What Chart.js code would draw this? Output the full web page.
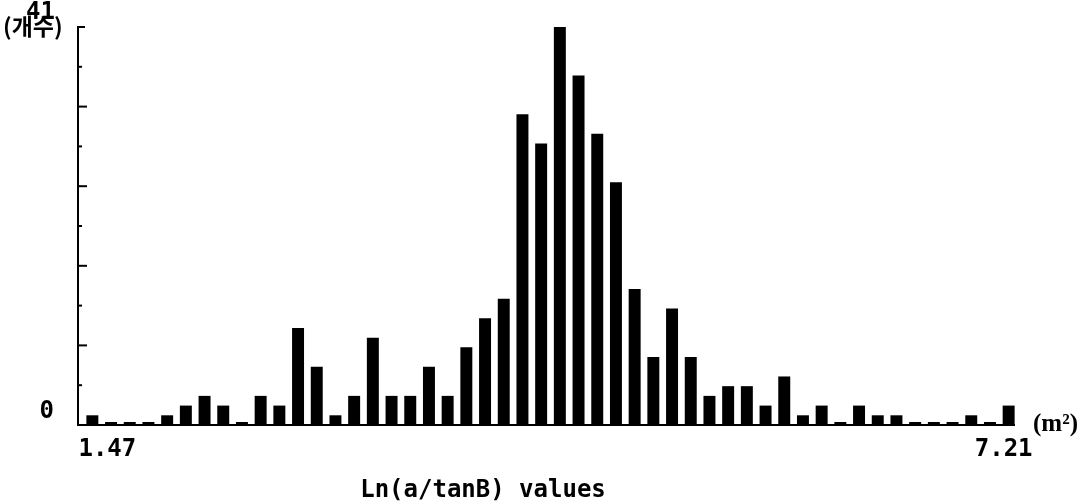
<!DOCTYPE html>
<html>
<head>
<meta charset="utf-8">
<script src="https://cdn.jsdelivr.net/npm/chart.js@4"></script>
<style>
  html, body { margin: 0; padding: 0; background: #fff; }
  canvas { display: block; }
</style>
</head>
<body>
<canvas id="hist" width="1086" height="504"></canvas>
<script>
// Frequency of Ln(a/tanB) values, 50 bins between 1.47 and 7.21
const counts = [
  1, 0, 0, 0, 1, 2, 3, 2, 0, 3,
  2, 10, 6, 1, 3, 9, 3, 3, 6, 3,
  8, 11, 13, 32, 29, 41, 36, 30, 25, 14,
  7, 12, 7, 3, 4, 4, 2, 5, 1, 2,
  0, 2, 1, 1, 0, 0, 0, 1, 0, 2
];
const bins = counts.map((_, i) => String(i + 1));
const xTickLabels = ['1.47', '7.21'];
const yTickLabels = ['0', '41'];
const yMax = 41;
const yUnitLabel = '(개수)';
const xUnitLabel = '(m²)';
const xTitle = 'Ln(a/tanB) values';

const MONO = 'bold 24px "DejaVu Sans Mono", "Liberation Mono", monospace';

// Axes, tick marks and all text are drawn here from the chart's own scales
const axesAndText = {
  id: 'axesAndText',
  afterDraw(chart) {
    const { ctx, chartArea: a, scales: { x, y } } = chart;
    const axisX = a.left - 5;
    const y0 = y.getPixelForValue(0);
    const yTop = y.getPixelForValue(yMax);
    ctx.save();
    ctx.strokeStyle = '#000';
    ctx.fillStyle = '#000';
    ctx.lineWidth = 2;
    ctx.lineCap = 'butt';

    // vertical axis with a short cap at the top
    ctx.beginPath();
    ctx.moveTo(axisX + 7, yTop);
    ctx.lineTo(axisX, yTop);
    ctx.lineTo(axisX, y0);
    ctx.stroke();

    // inward ticks, alternating long / short
    y.ticks.forEach((t, i) => {
      if (i === 0 || i === y.ticks.length - 1) return;
      const py = y.getPixelForValue(t.value);
      const len = i % 2 === 0 ? 9 : 4;
      ctx.beginPath();
      ctx.moveTo(axisX, py);
      ctx.lineTo(axisX + len, py);
      ctx.stroke();
    });

    // baseline
    ctx.beginPath();
    ctx.moveTo(axisX - 1, y0);
    ctx.lineTo(a.right - 3, y0);
    ctx.stroke();

    // y unit label (drawn first so the top value sits over it)
    ctx.font = 'bold 23px "Noto Sans CJK KR", sans-serif';
    ctx.textAlign = 'left';
    ctx.textBaseline = 'middle';
    ctx.fillText(yUnitLabel, 3, yTop - 1);

    // y tick labels
    ctx.font = MONO;
    ctx.textAlign = 'right';
    ctx.fillText(yTickLabels[0], axisX - 24, y0 - 13);
    ctx.fillText(yTickLabels[1], axisX - 23, yTop - 14);

    // x tick labels
    ctx.textAlign = 'center';
    ctx.fillText(xTickLabels[0], x.getPixelForValue(0) + 15, y0 + 25);
    ctx.fillText(xTickLabels[1], x.getPixelForValue(counts.length - 1) - 5, y0 + 25);

    // x unit label
    ctx.font = 'bold 25px "Liberation Serif", serif';
    ctx.textAlign = 'left';
    ctx.fillText(xUnitLabel, a.right + 15, y0);

    // x title
    ctx.font = MONO;
    ctx.textAlign = 'center';
    ctx.fillText(xTitle, 483, y0 + 66);

    ctx.restore();
  }
};

new Chart(document.getElementById('hist'), {
  type: 'bar',
  data: {
    labels: bins,
    datasets: [{
      data: counts,
      backgroundColor: '#000',
      borderWidth: 0,
      barPercentage: 0.64,
      categoryPercentage: 1.0,
      minBarLength: 3
    }]
  },
  options: {
    responsive: false,
    animation: false,
    devicePixelRatio: 1,
    layout: { padding: { left: 83, right: 68, top: 27, bottom: 79 } },
    plugins: { legend: { display: false }, tooltip: { enabled: false } },
    scales: {
      x: { display: false, offset: true },
      y: { display: false, min: 0, max: yMax, ticks: { count: 11 } }
    }
  },
  plugins: [axesAndText]
});
</script>
</body>
</html>
